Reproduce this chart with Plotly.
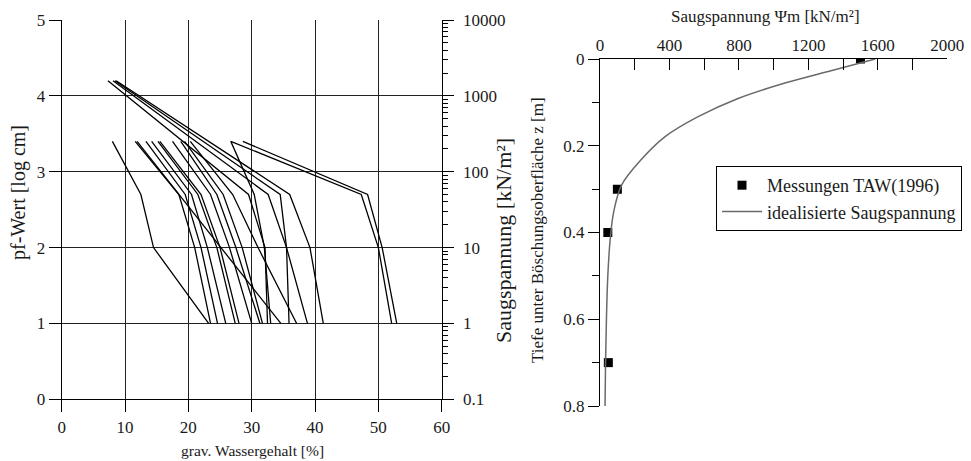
import plotly.graph_objects as go

# --- Left panel: water retention curves (pF vs. gravimetric water content) ---
# pF levels of the measurement points
pf_from_34 = [3.4, 2.7, 2.0, 1.0]
pf_from_42 = [4.2, 2.7, 2.0, 1.0]

# gravimetric water content [%] at the pF levels above, one row per sample
w_from_34 = [
    [8.0, 12.5, 14.5, 23.2],
    [11.6, 18.5, 21.0, 23.5],
    [11.9, 18.5, 25.1, 34.6],
    [13.3, 19.5, 22.0, 24.6],
    [14.2, 20.5, 23.0, 25.9],
    [15.2, 21.5, 24.5, 27.4],
    [15.5, 22.0, 25.0, 28.0],
    [17.5, 23.5, 26.5, 30.0],
    [18.8, 24.5, 27.5, 31.3],
    [19.4, 25.5, 28.5, 31.7],
    [20.3, 27.0, 31.0, 37.1],
    [26.7, 30.4, 32.0, 33.0],
    [26.7, 47.3, 50.0, 52.1],
    [28.6, 48.3, 50.6, 52.9],
]
w_from_42 = [
    [7.3, 29.5, 32.1, 32.5],
    [8.1, 32.6, 35.5, 38.8],
    [8.4, 34.5, 35.5, 35.9],
    [8.6, 36.0, 39.2, 41.3],
]

# right-hand scale of the left panel (suction in kN/m²)
suction_ticks = [0.1, 1, 10, 100, 1000, 10000]
suction_labels = ["0.1", "1", "10", "100", "1000", "10000"]

# --- Right panel: suction vs. depth below slope surface ---
meas_depth = [0.0, 0.3, 0.4, 0.7]
meas_psi = [1500, 100, 45, 48]

ideal_depth = [0.0, 0.027, 0.056, 0.091, 0.133, 0.179, 0.233, 0.29, 0.35, 0.41, 0.5, 0.6, 0.7, 0.8]
ideal_psi = [1585, 1330, 1060, 795, 565, 375, 235, 125, 80, 60, 45, 37, 32, 29]

W, H = 971, 461
FONT = "Liberation Serif, Times New Roman, Times, serif"
INK = "#1a1a1a"


def px_x(p):
    return p / W


def px_y(p):
    return 1 - p / H


fig = go.Figure()

for w in w_from_34:
    fig.add_trace(go.Scatter(x=w, y=pf_from_34, mode="lines", xaxis="x", yaxis="y",
                             line=dict(color="black", width=1.3), showlegend=False,
                             hoverinfo="skip"))
for w in w_from_42:
    fig.add_trace(go.Scatter(x=w, y=pf_from_42, mode="lines", xaxis="x", yaxis="y",
                             line=dict(color="black", width=1.3), showlegend=False,
                             hoverinfo="skip"))

# placeholder so the log suction axis is drawn
fig.add_trace(go.Scatter(x=[None], y=[None], xaxis="x", yaxis="y2", showlegend=False,
                         hoverinfo="skip"))

fig.add_trace(go.Scatter(x=meas_psi, y=meas_depth, mode="markers", xaxis="x2", yaxis="y3",
                         name="Messungen TAW(1996)",
                         marker=dict(symbol="square", size=9, color="black")))
fig.add_trace(go.Scatter(x=ideal_psi, y=ideal_depth, mode="lines", xaxis="x2", yaxis="y3",
                         name="idealisierte Saugspannung", line_shape="spline",
                         line=dict(color="#6a6a6a", width=1.5)))

tickfont = dict(family=FONT, size=17, color=INK)
minor_suction = [m * 10 ** e for e in range(-1, 4) for m in range(2, 10)]

fig.update_layout(
    width=W, height=H,
    margin=dict(l=0, r=0, t=0, b=0, autoexpand=False),
    paper_bgcolor="white", plot_bgcolor="white",
    font=dict(family=FONT, size=17, color=INK),
    xaxis=dict(domain=[px_x(61.7), px_x(441.7)], range=[0, 60], dtick=10,
               anchor="y", showline=True, linecolor="black", linewidth=1,
               ticks="outside", ticklen=12, tickcolor="black", automargin=False,
               showgrid=True, gridcolor="#222", gridwidth=1, zeroline=False,
               tickfont=tickfont),
    yaxis=dict(domain=[px_y(399.3), px_y(20)], range=[0, 5], dtick=1,
               anchor="x", showline=True, linecolor="black", linewidth=1,
               ticks="outside", ticklen=12, tickcolor="black", automargin=False,
               showgrid=True, gridcolor="#222", gridwidth=1, zeroline=False,
               tickfont=tickfont),
    yaxis2=dict(overlaying="y", side="right", anchor="x", type="log", range=[-1, 4],
                tickvals=suction_ticks, ticktext=suction_labels, automargin=False,
                showline=True, linecolor="black", linewidth=1,
                ticks="outside", ticklen=11, tickcolor="black", ticklabelstandoff=6,
                minor=dict(tickvals=minor_suction, ticks="outside", ticklen=5,
                           tickcolor="black", showgrid=False),
                showgrid=False, zeroline=False, tickfont=tickfont),
    xaxis2=dict(domain=[px_x(600), px_x(947.3)], range=[0, 2000], dtick=400,
                anchor="y3", side="top", showline=True, linecolor="black", linewidth=1,
                ticks="inside", ticklen=11, tickcolor="black", automargin=False,
                minor=dict(dtick=200, ticks="inside", ticklen=11, tickcolor="black"),
                showgrid=False, zeroline=False, tickfont=tickfont),
    yaxis3=dict(domain=[px_y(406), px_y(59)], range=[0.8, 0], dtick=0.2,
                anchor="x2", showline=True, linecolor="black", linewidth=1,
                ticks="outside", ticklen=11, tickcolor="black", automargin=False,
                minor=dict(dtick=0.1, ticks="outside", ticklen=7, tickcolor="black"),
                showgrid=False, zeroline=False, tickfont=tickfont),
    legend=dict(x=px_x(716), y=px_y(166), xanchor="left", yanchor="top",
                bordercolor="black", borderwidth=1, bgcolor="white", itemwidth=40,
                font=dict(family=FONT, size=18, color=INK), tracegroupgap=0),
)

titles = [
    ("pf-Wert [log cm]", 18, 193, -90, 20),
    ("Saugspannung [kN/m²]", 503, 241, -90, 22),
    ("grav. Wassergehalt [%]", 252, 450, 0, 15.5),
    ("Saugspannung Ψm [kN/m²]", 765, 16, 0, 17),
    ("Tiefe unter Böschungsoberfläche z [m]", 537, 230, -90, 17),
]
for text, x, y, ang, size in titles:
    fig.add_annotation(text=text, x=px_x(x), y=px_y(y), xref="paper", yref="paper",
                       showarrow=False, textangle=ang, xanchor="center", yanchor="middle",
                       font=dict(family=FONT, size=size, color=INK))

fig.write_html("out.html")
